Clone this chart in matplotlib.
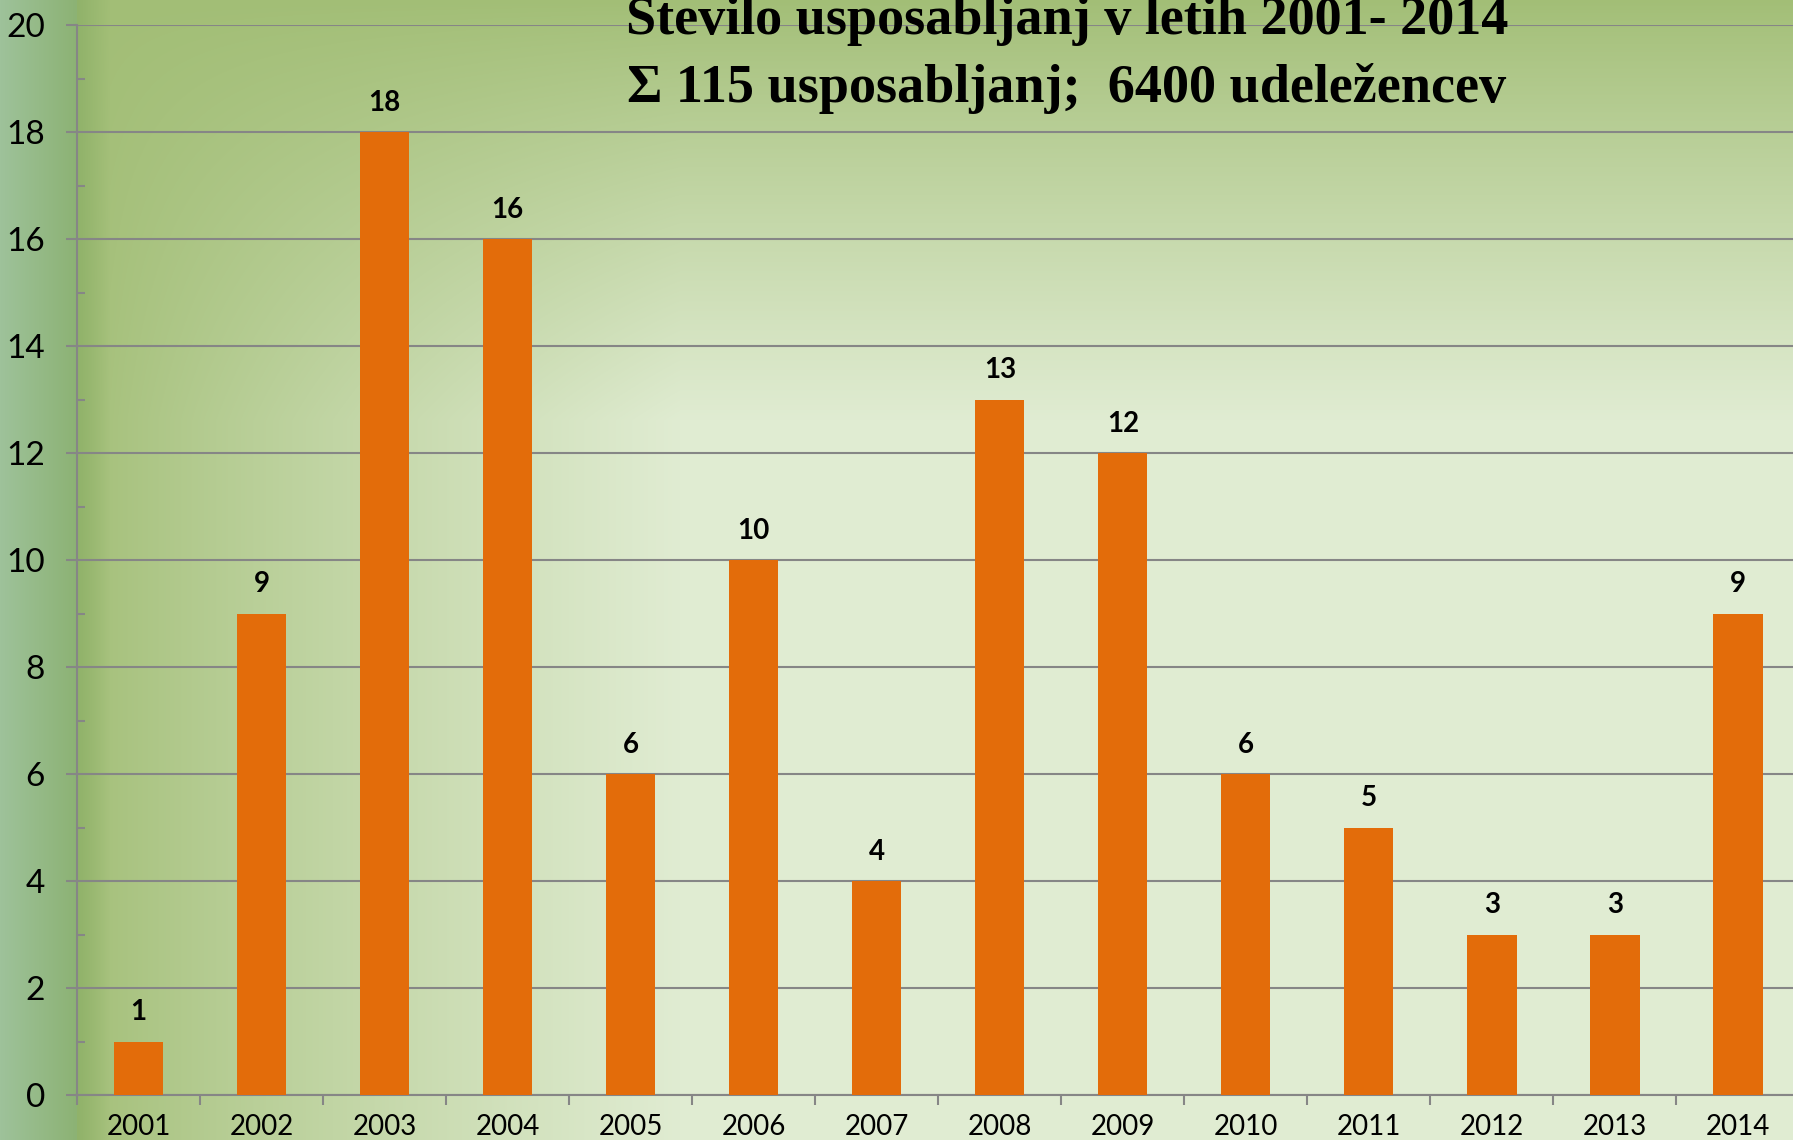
import numpy as np
import matplotlib.pyplot as plt
from matplotlib.ticker import MultipleLocator, FixedLocator

# podatki
leta = ['2001', '2002', '2003', '2004', '2005', '2006', '2007',
        '2008', '2009', '2010', '2011', '2012', '2013', '2014']
usposabljanja = [1, 9, 18, 16, 6, 10, 4, 13, 12, 6, 5, 3, 3, 9]
naslov1 = 'Število usposabljanj v letih 2001- 2014'
naslov2 = 'Σ 115 usposabljanj;  6400 udeležencev'

W, H = 1793, 1140
fig = plt.figure(figsize=(W / 100, H / 100), dpi=100)

# ozadje - zeleni preliv
xx, yy = np.meshgrid(np.arange(W), np.arange(H))
zunaj = np.array([0xa2, 0xbe, 0x76]) / 255
znotraj = np.array([0xe0, 0xec, 0xd2]) / 255
hf = np.clip((xx - 80) / 600, 0, 1) ** 0.8
vf = np.clip(yy / 420, 0, 1) ** 0.9
t = (hf * vf)[..., None]
img = zunaj + (znotraj - zunaj) * t
# levi trak
levo = xx < 77
s = np.clip(xx / 77, 0, 1)[..., None]
trak = np.array([0x9e, 0xc2, 0x9a]) / 255 * (1 - s) + np.array([0x8c, 0xb2, 0x74]) / 255 * s
img = np.where(levo[..., None], trak, img)
# prehod desno od osi
prehod = (xx >= 77) & (xx < 110)
s2 = np.clip((xx - 77) / 33, 0, 1)[..., None]
img = np.where(prehod[..., None], np.array([0x90, 0xb2, 0x6a]) / 255 * (1 - s2) + img * s2, img)

bg = fig.add_axes([0, 0, 1, 1], zorder=0)
bg.imshow(img, aspect='auto', extent=[0, 1, 0, 1])
bg.axis('off')

ax = fig.add_axes([77 / W, 1 - 1095 / H, 1722.5 / W, (1095 - 25) / H], zorder=1)
ax.set_facecolor('none')

siva = '#868686'
x = np.arange(len(leta))
ax.bar(x, usposabljanja, width=0.4, color='#e36c0a', zorder=3)

for xi, v in zip(x, usposabljanja):
    ax.annotate(str(v), (xi, v), xytext=(0, 21), textcoords='offset points',
                ha='center', va='center', fontsize=20, fontweight='bold',
                family='Lato', color='black')

ax.set_xlim(-0.5, len(leta) - 0.5)
ax.set_ylim(0, 20)
ax.yaxis.set_major_locator(MultipleLocator(2))
ax.yaxis.set_minor_locator(MultipleLocator(1))
ax.set_xticks(x)
ax.set_xticklabels(leta)
ax.xaxis.set_minor_locator(FixedLocator(np.arange(-0.5, len(leta), 1)))

ax.grid(axis='y', which='major', color=siva, linewidth=1.5, zorder=0)
ax.set_axisbelow(True)
for sp in ['top', 'right']:
    ax.spines[sp].set_visible(False)
for sp in ['left', 'bottom']:
    ax.spines[sp].set_color(siva)
    ax.spines[sp].set_linewidth(1.5)

ax.tick_params(axis='y', which='major', direction='out', length=8, width=1.5,
               color=siva, pad=15, labelsize=24)
ax.tick_params(axis='y', which='minor', direction='in', length=6, width=1.5, color=siva)
ax.tick_params(axis='x', which='major', length=0, pad=14, labelsize=20)
ax.tick_params(axis='x', which='minor', direction='out', length=7, width=1.5, color=siva)
for lab in ax.get_xticklabels() + ax.get_yticklabels():
    lab.set_family('Lato')

fig.text(1067 / W, 1 - 16 / H, naslov1, ha='center', va='center',
         family='Liberation Serif', fontweight='bold', fontsize=39, zorder=5)
fig.text(1067 / W, 1 - 88 / H, naslov2, ha='center', va='center',
         family='Liberation Serif', fontweight='bold', fontsize=39, zorder=5)

fig.savefig('out.png', dpi=100)
